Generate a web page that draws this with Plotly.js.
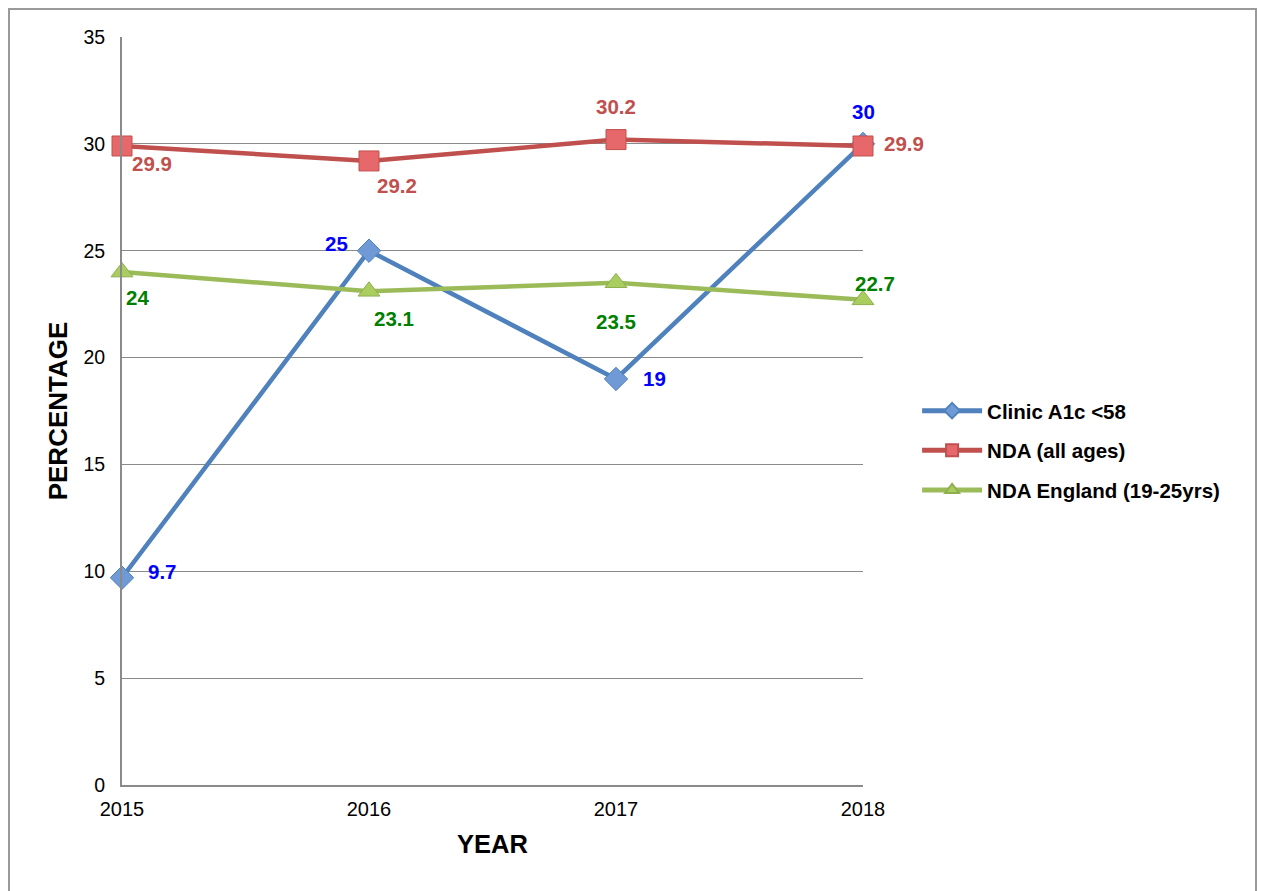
<!DOCTYPE html>
<html><head><meta charset="utf-8">
<script src="https://cdn.plot.ly/plotly-3.0.1.min.js"></script>
<style>
html,body{margin:0;padding:0;background:#fff;}
#wrap{position:relative;width:1261px;height:891px;overflow:hidden;}
#frame{position:absolute;left:8px;top:8px;width:1249px;height:900px;border:2px solid #9a9a9a;box-sizing:border-box;}
#chart{position:absolute;left:0;top:0;width:1261px;height:891px;}
</style></head>
<body><div id="wrap"><div id="frame"></div><div id="chart"></div></div>
<script>
const years = [2015, 2016, 2017, 2018];
const clinicA1c = [9.7, 25, 19, 30];
const ndaAllAges = [29.9, 29.2, 30.2, 29.9];
const ndaEngland = [24, 23.1, 23.5, 22.7];
const seriesNames = ['Clinic A1c <58', 'NDA (all ages)', 'NDA England (19-25yrs)'];
const yTicks = [0, 5, 10, 15, 20, 25, 30, 35];

// label offsets (pixels) per point - styling only
const offClinic = [[40,-6],[-33,-7],[38,0],[0,-32]];
const offNda = [[30,18],[28,25],[0,-33],[41,-2]];
const offEng = [[15,25],[25,27],[0,39],[12,-16]];

const FONT = 'Liberation Sans, Arial, Helvetica, sans-serif';

const traces = [
  {x: years, y: clinicA1c, name: seriesNames[0], type:'scatter', mode:'lines+markers', legendgroup:'a',
   line:{color:'#4f81bd', width:4.5},
   marker:{symbol:'diamond', size:18, color:'#6f9ad6', line:{color:'#4f81bd', width:1}}, cliponaxis:false},
  {x: years, y: ndaAllAges, name: seriesNames[1], type:'scatter', mode:'lines+markers', legendgroup:'b',
   line:{color:'#c0504d', width:4.5},
   marker:{symbol:'square', size:20, color:'#e6686a', line:{color:'#c0504d', width:1}}, cliponaxis:false},
  {x: years, y: ndaEngland, name: seriesNames[2], type:'scatter', mode:'lines+markers', legendgroup:'c',
   line:{color:'#9bbb59', width:4.5},
   marker:{symbol:'triangle-up', size:19, color:'#a9cd5e', line:{color:'#8fae50', width:1}}, cliponaxis:false}
];

const annotations = [];
function addLabels(vals, offs, color){
  vals.forEach((v,i)=>{
    annotations.push({x: years[i], y: v, xref:'x', yref:'y', text: String(v), showarrow:false,
      xshift: offs[i][0], yshift: -offs[i][1],
      font:{family:FONT, size:20.5, color:color, weight:'bold'}});
  });
}
addLabels(clinicA1c, offClinic, '#0000ff');
addLabels(ndaAllAges, offNda, '#c0504d');
addLabels(ndaEngland, offEng, '#008000');

const layout = {
  width:1261, height:891,
  margin:{l:122, r:398, t:37, b:106, pad:0},
  paper_bgcolor:'rgba(0,0,0,0)', plot_bgcolor:'rgba(0,0,0,0)',
  font:{family:FONT, size:20, color:'#000'},
  showlegend:true,
  legend:{x:1.073, y:0.527, xanchor:'left', yanchor:'top', tracegroupgap:10, itemwidth:60, itemsizing:'constant',
    font:{family:FONT, size:20.5, color:'#000', weight:'bold'}, bgcolor:'rgba(0,0,0,0)'},
  xaxis:{range:[2015, 2018], tickvals: years, ticktext: years.map(String), showgrid:false, zeroline:false,
    showline:true, linecolor:'#8a8a8a', linewidth:2, ticks:'', ticklabelstandoff:5,
    tickfont:{family:FONT, size:20},
    title:{text:'YEAR', font:{family:FONT, size:25.5, weight:'bold'}, standoff:16}},
  yaxis:{range:[0, 35], tickvals: yTicks, showgrid:true, gridcolor:'#8a8a8a', gridwidth:1, zeroline:false,
    showline:true, linecolor:'#8a8a8a', linewidth:2, ticks:'', ticklabelstandoff:11,
    tickfont:{family:FONT, size:19.5},
    title:{text:'PERCENTAGE', font:{family:FONT, size:26, weight:'bold'}, standoff:8}},
  annotations: annotations
};
Plotly.newPlot('chart', traces, layout, {displayModeBar:false, staticPlot:true});
</script></body></html>
